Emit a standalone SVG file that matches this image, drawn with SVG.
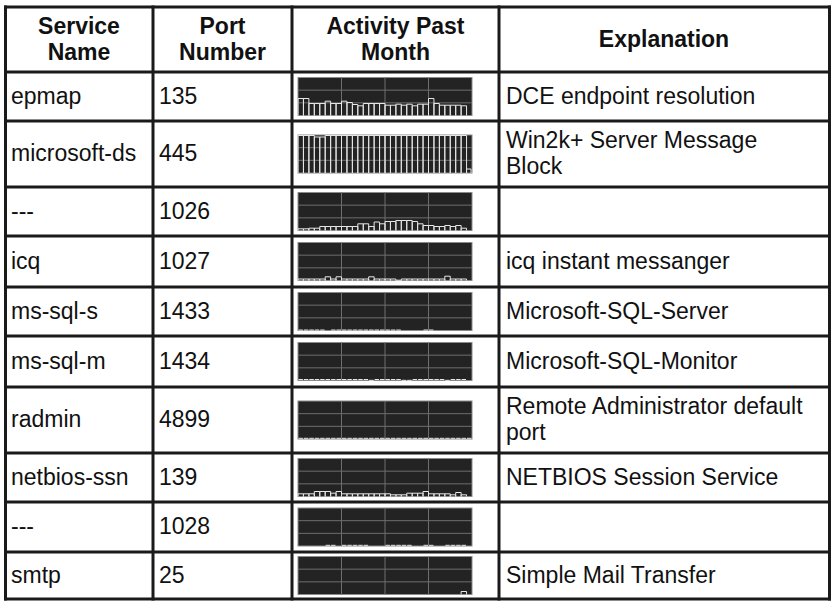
<svg xmlns="http://www.w3.org/2000/svg" width="832" height="602" viewBox="0 0 832 602">
<style>
.t{font-family:"Liberation Sans",Arial,Helvetica,sans-serif;font-size:23px;fill:#111}
.h{font-weight:bold;text-anchor:middle}
.grid line{stroke:#1a1a1a;stroke-width:3}
.cbg{fill:#232323;stroke:#8a8a8a;stroke-width:1}
.cg{stroke:#6e6e6e;stroke-width:1;fill:none}
.bars{fill:none;stroke:#e6e6e6;stroke-width:1}
</style>
<defs>
<g id="chart">
<rect class="cbg" x="0" y="0" width="174" height="38"/>
<path class="cg" d="M43.5 0V38M87 0V38M130.5 0V38M0 12.67H174M0 25.33H174"/>
</g>
</defs>
<rect x="0" y="0" width="832" height="602" fill="#fff"/>

<g id="header">
<text class="t h" x="79" y="33.5">Service</text>
<text class="t h" x="79" y="60">Name</text>
<text class="t h" x="222.5" y="33.5">Port</text>
<text class="t h" x="222.5" y="60">Number</text>
<text class="t h" x="395.5" y="33.5">Activity Past</text>
<text class="t h" x="395.5" y="60">Month</text>
<text class="t h" x="664" y="47">Explanation</text>
</g>

<g id="row-epmap">
<text class="t" x="11" y="103.5">epmap</text>
<text class="t" x="159" y="103.5">135</text>
<g transform="translate(298,77.5)"><use href="#chart"/>
<path class="bars" d="M0 38V21H5.44V38V21H10.88V38V26H16.31V38V26H21.75V38V26H27.19V38V23.7H32.63V38V26H38.06V38V26H43.5V38V23.7H48.94V38V25H54.38V38V27H59.81V38V28.3H65.25V38V26H70.69V38V26H76.13V38V26H81.56V38V26H87V38V27.7H92.44V38V27.7H97.88V38V26.7H103.31V38V27.7H108.75V38V26.7H114.19V38V28.3H119.63V38V26.7H125.06V38V26.7H130.5V38V21H135.94V38V26H141.38V38V27.7H146.81V38V27.7H152.25V38V27.7H157.69V38V27.7H163.13V38V28.3H168.56V38"/></g>
<text class="t" x="506" y="103.5">DCE endpoint resolution</text>
</g>

<g id="row-microsoft-ds">
<text class="t" x="11" y="161">microsoft-ds</text>
<text class="t" x="159" y="161">445</text>
<g transform="translate(298,135)"><use href="#chart"/>
<path class="bars" d="M0 38V0.5H5.44V38V0.5H10.88V38V0.5H16.31V38V2H21.75V38V2H27.19V38V0.5H32.63V38V0.5H38.06V38V0.5H43.5V38V0.5H48.94V38V0.5H54.38V38V0.5H59.81V38V0.5H65.25V38V0.5H70.69V38V0.5H76.13V38V0.5H81.56V38V0.5H87V38V0.5H92.44V38V0.5H97.88V38V0.5H103.31V38V0.5H108.75V38V0.5H114.19V38V0.5H119.63V38V0.5H125.06V38V0.5H130.5V38V0.5H135.94V38V0.5H141.38V38V0.5H146.81V38V0.5H152.25V38V0.5H157.69V38V0.5H163.13V38V0.5H168.56V38V34H173V38"/></g>
<text class="t" x="506" y="148">Win2k+ Server Message</text>
<text class="t" x="506" y="174">Block</text>
</g>

<g id="row-1026">
<text class="t" x="11" y="218.5">---</text>
<text class="t" x="159" y="218.5">1026</text>
<g transform="translate(298,192.5)"><use href="#chart"/>
<path class="bars" d="M0 38V36.3H5.44V38V36.3H10.88V38V35.7H16.31V38V35.7H21.75V38V34H27.19V38V34H32.63V38V34H38.06V38V34H43.5V38V34H48.94V38V34H54.38V38V34H59.81V38V31.3H65.25V38V31.3H70.69V38V34H76.13V38V29.5H81.56V38V31.3H87V38V29H92.44V38V29H97.88V38V28H103.31V38V28H108.75V38V28H114.19V38V29H119.63V38V31.3H125.06V38V33H130.5V38V33H135.94V38V34H141.38V38V34H146.81V38V33H152.25V38V34H157.69V38V33H163.13V38V35.7H168.56V38"/></g>
</g>

<g id="row-icq">
<text class="t" x="11" y="268.5">icq</text>
<text class="t" x="159" y="268.5">1027</text>
<g transform="translate(298,242.5)"><use href="#chart"/>
<path class="bars" d="M0 38V36.5H5.44V38V36.5H10.88V38V36.5H16.31V38V36.5H21.75V38V36.5H27.19V38V34.3H32.63V38V36.5H38.06V38V34.3H43.5V38V36.5H48.94V38V36.5H54.38V38V36.5H59.81V38V36.5H65.25V38V36.5H70.69V38V34.3H76.13V38V36.5H81.56V38V36.5H87V38V36.5H92.44V38V36.5H97.88V38V37.7H103.31V38V36.5H108.75V38V36.5H114.19V38V36.5H119.63V38V36.5H125.06V38V36.5H130.5V38V36.5H135.94V38V36.5H141.38V38V36.5H146.81V38V33.7H152.25V38V36.5H157.69V38V36.5H163.13V38V36.5H168.56V38"/></g>
<text class="t" x="506" y="268.5">icq instant messanger</text>
</g>

<g id="row-ms-sql-s">
<text class="t" x="11" y="318.5">ms-sql-s</text>
<text class="t" x="159" y="318.5">1433</text>
<g transform="translate(298,292.5)"><use href="#chart"/>
<path class="bars" d="M0.5 37.5H4.9M5.9 37.5H10.3M11.3 37.5H15.8M16.8 37.5H21.2M22.2 37.5H26.6M33.1 37.5H37.5M38.5 37.5H43M44 37.5H48.4M49.4 37.5H53.8M54.8 37.5H59.3M60.3 37.5H64.7M65.7 37.5H70.1M71.1 37.5H75.6M76.6 37.5H81M82 37.5H86.5M87.5 37.5H91.9M92.9 37.5H97.3M98.3 37.5H102.8M125.5 37.5H130M131 37.5H135.4"/></g>
<text class="t" x="506" y="318.5">Microsoft-SQL-Server</text>
</g>

<g id="row-ms-sql-m">
<text class="t" x="11" y="368.5">ms-sql-m</text>
<text class="t" x="159" y="368.5">1434</text>
<g transform="translate(298,342.5)"><use href="#chart"/>
<path class="bars" d="M0.5 37H4.9M5.9 37H10.3M11.3 37H15.8M16.8 37H21.2M22.2 37H26.6M27.6 37H32.1M33.1 37H37.5M38.5 37H43M44 37H48.4M49.4 37H53.8M54.8 37H59.3M60.3 37H64.7M65.7 37H70.1M71.1 37.8H75.6M76.6 37H81M82 37H86.5M87.5 37H91.9M92.9 37H97.3M98.3 37H102.8M103.8 37.8H108.2M109.2 37.8H113.6M114.6 37H119.1M120.1 37H124.5M125.5 37H130M131 37H135.4M136.4 37H140.8M141.8 37H146.3M147.3 37.8H151.7M152.7 37H157.2M158.2 37H162.6M163.6 37H168"/></g>
<text class="t" x="506" y="368.5">Microsoft-SQL-Monitor</text>
</g>

<g id="row-radmin">
<text class="t" x="11" y="427">radmin</text>
<text class="t" x="159" y="427">4899</text>
<g transform="translate(298,401)"><use href="#chart"/>
<path class="bars" d="M0.5 37.3H4.9M5.9 37.3H10.3M11.3 37.3H15.8M16.8 37.3H21.2M22.2 37.3H26.6M27.6 37.3H32.1M33.1 37.3H37.5M38.5 37.3H43M44 37.3H48.4M49.4 37.3H53.8M54.8 37.3H59.3M60.3 37.3H64.7M65.7 37.3H70.1M71.1 37.3H75.6M76.6 37.3H81M82 37.3H86.5M87.5 37.3H91.9M92.9 37.3H97.3M98.3 37.3H102.8M103.8 37.3H108.2M109.2 37.3H113.6M114.6 37.3H119.1M120.1 37.3H124.5M125.5 37.3H130M131 37.3H135.4M136.4 37.3H140.8M141.8 37.3H146.3M147.3 37.3H151.7M152.7 37.3H157.2M158.2 37.3H162.6M163.6 37.3H168M169 37.3H173.5"/></g>
<text class="t" x="506" y="414">Remote Administrator default</text>
<text class="t" x="506" y="440">port</text>
</g>

<g id="row-netbios-ssn">
<text class="t" x="11" y="484.5">netbios-ssn</text>
<text class="t" x="159" y="484.5">139</text>
<g transform="translate(298,458.5)"><use href="#chart"/>
<path class="bars" d="M0 38V35.3H5.44V38V35.3H10.88V38V35.3H16.31V38V33H21.75V38V33H27.19V38V33H32.63V38V34.7H38.06V38V33H43.5V38V35.3H48.94V38V35.3H54.38V38V35.3H59.81V38V35.3H65.25V38V35.3H70.69V38V35.3H76.13V38V35.3H81.56V38V35.3H87V38V35.3H92.44V38V36.3H97.88V38V36.3H103.31V38V36.3H108.75V38V34.7H114.19V38V34.7H119.63V38V34.7H125.06V38V33H130.5V38V35.3H135.94V38V35.3H141.38V38V35.3H146.81V38V35.3H152.25V38V36.3H157.69V38V34H163.13V38V36.3H168.56V38"/></g>
<text class="t" x="506" y="484.5">NETBIOS Session Service</text>
</g>

<g id="row-1028">
<text class="t" x="11" y="534">---</text>
<text class="t" x="159" y="534">1028</text>
<g transform="translate(298,508)"><use href="#chart"/>
<path class="bars" d="M27.6 37.3H32.1M33.1 37.3H37.5M44 37.3H48.4M49.4 37.3H53.8M54.8 37.3H59.3M60.3 37.3H64.7M65.7 37.3H70.1M87.5 37.3H91.9M92.9 37.3H97.3M98.3 37.3H102.8M103.8 37.3H108.2M109.2 37.3H113.6M125.5 37.3H130M131 37.3H135.4M147.3 37.3H151.7M152.7 37.3H157.2M158.2 37.3H162.6M163.6 37.3H168"/></g>
</g>

<g id="row-smtp">
<text class="t" x="11" y="582.5">smtp</text>
<text class="t" x="159" y="582.5">25</text>
<g transform="translate(298,556.5)"><use href="#chart"/>
<path class="bars" d="M163.13 38V35H168.56V38"/></g>
<text class="t" x="506" y="582.5">Simple Mail Transfer</text>
</g>

<g id="table-lines" class="grid">
<line x1="4" y1="7" x2="831" y2="7"/>
<line x1="4" y1="72" x2="831" y2="72"/>
<line x1="4" y1="121" x2="831" y2="121"/>
<line x1="4" y1="187" x2="831" y2="187"/>
<line x1="4" y1="236" x2="831" y2="236"/>
<line x1="4" y1="287" x2="831" y2="287"/>
<line x1="4" y1="336" x2="831" y2="336"/>
<line x1="4" y1="387" x2="831" y2="387"/>
<line x1="4" y1="453" x2="831" y2="453"/>
<line x1="4" y1="502" x2="831" y2="502"/>
<line x1="4" y1="552" x2="831" y2="552"/>
<line x1="4" y1="599" x2="831" y2="599"/>
<line x1="5.5" y1="5.5" x2="5.5" y2="600.5"/>
<line x1="153" y1="5.5" x2="153" y2="600.5"/>
<line x1="292" y1="5.5" x2="292" y2="600.5"/>
<line x1="499" y1="5.5" x2="499" y2="600.5"/>
<line x1="829.5" y1="5.5" x2="829.5" y2="600.5"/>
</g>
</svg>
